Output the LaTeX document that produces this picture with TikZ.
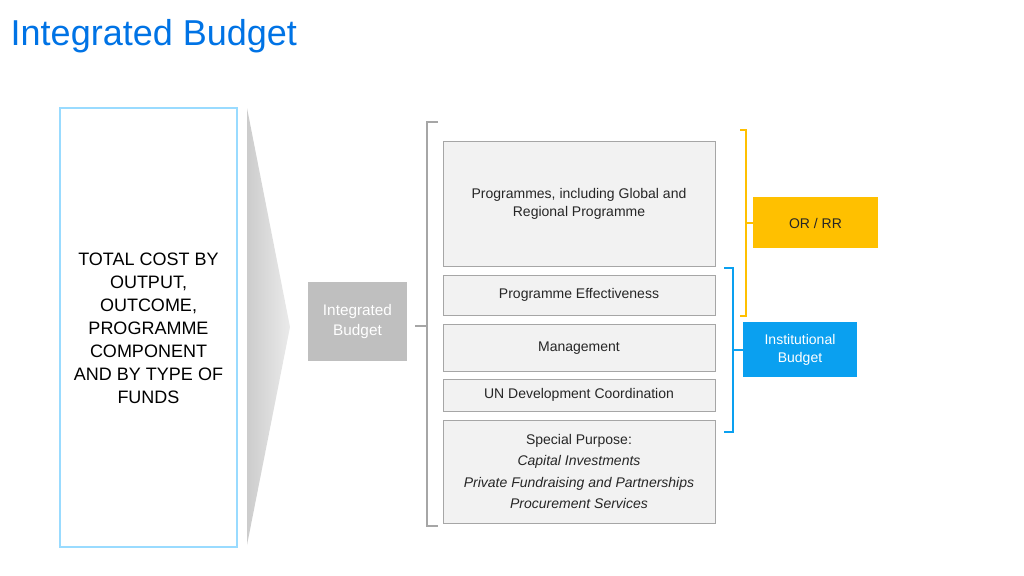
\documentclass[tikz,border=0pt]{standalone}
\usepackage{fontspec}
\setmainfont{Liberation Sans}
\begin{document}
\begin{tikzpicture}[x=0.75pt,y=-0.75pt,
  gb/.style={draw=black!35,fill=black!5,line width=0.6pt},
  t/.style={font=\fontsize{10.5pt}{13pt}\selectfont,align=center,text=black!85},
  br/.style={line width=1.6pt}]
\useasboundingbox (0,0) rectangle (1024,575);
\node[anchor=base west,text=blue!50!cyan!90!black,font=\fontsize{27pt}{30pt}\selectfont] (title) at (6,45) {Integrated Budget};
\draw[draw=blue!35!cyan!40,fill=white,line width=0.8pt] (60,108) rectangle (237,547);
\node[align=center,font=\fontsize{13.5pt}{17.3pt}\selectfont] (total) at (148.5,328) {TOTAL COST BY\\OUTPUT,\\OUTCOME,\\PROGRAMME\\COMPONENT\\AND BY TYPE OF\\FUNDS};
\shade[left color=black!20,right color=black!8] (247,108) -- (290,327) -- (247,545) -- cycle;
\fill[black!25] (308,282) rectangle (407,361);
\node[t,text=white,font=\fontsize{11.5pt}{15pt}\selectfont] (ib) at (357.5,322) {Integrated\\Budget};
\draw[black!35,line width=1.2pt] (438,122) -- (427,122) -- (427,526) -- (438,526);
\draw[black!35,line width=1.2pt] (415,326) -- (427,326);
\draw[gb] (443,141) rectangle (715,266);
\node[t] (p1) at (579,204) {Programmes, including Global and\\Regional Programme};
\draw[gb] (443,275) rectangle (715,315);
\node[t] (p2) at (579,295) {Programme Effectiveness};
\draw[gb] (443,324) rectangle (715,371);
\node[t] (p3) at (579,348) {Management};
\draw[gb] (443,379) rectangle (715,411);
\node[t] (p4) at (579,395) {UN Development Coordination};
\draw[gb] (443,420) rectangle (715,523);
\node[t,font=\fontsize{10.5pt}{16pt}\selectfont] (p5) at (579,471.5) {Special Purpose:\\\textit{Capital Investments}\\\textit{Private Fundraising and Partnerships}\\\textit{Procurement Services}};
\definecolor{org}{HTML}{FFC000}
\definecolor{blu}{HTML}{0AA0F0}
\draw[org,br] (740,130) -- (746,130) -- (746,316) -- (740,316);
\draw[org,br] (746,223) -- (753,223);
\fill[org] (753,197) rectangle (878,248);
\node[t] (or) at (815.5,223) {OR / RR};
\draw[blu,br] (724,268) -- (733,268) -- (733,432) -- (724,432);
\draw[blu,br] (733,350) -- (743,350);
\fill[blu] (743,322) rectangle (857,377);
\node[t,text=white] (inst) at (800,350) {Institutional\\Budget};
\end{tikzpicture}
\end{document}
